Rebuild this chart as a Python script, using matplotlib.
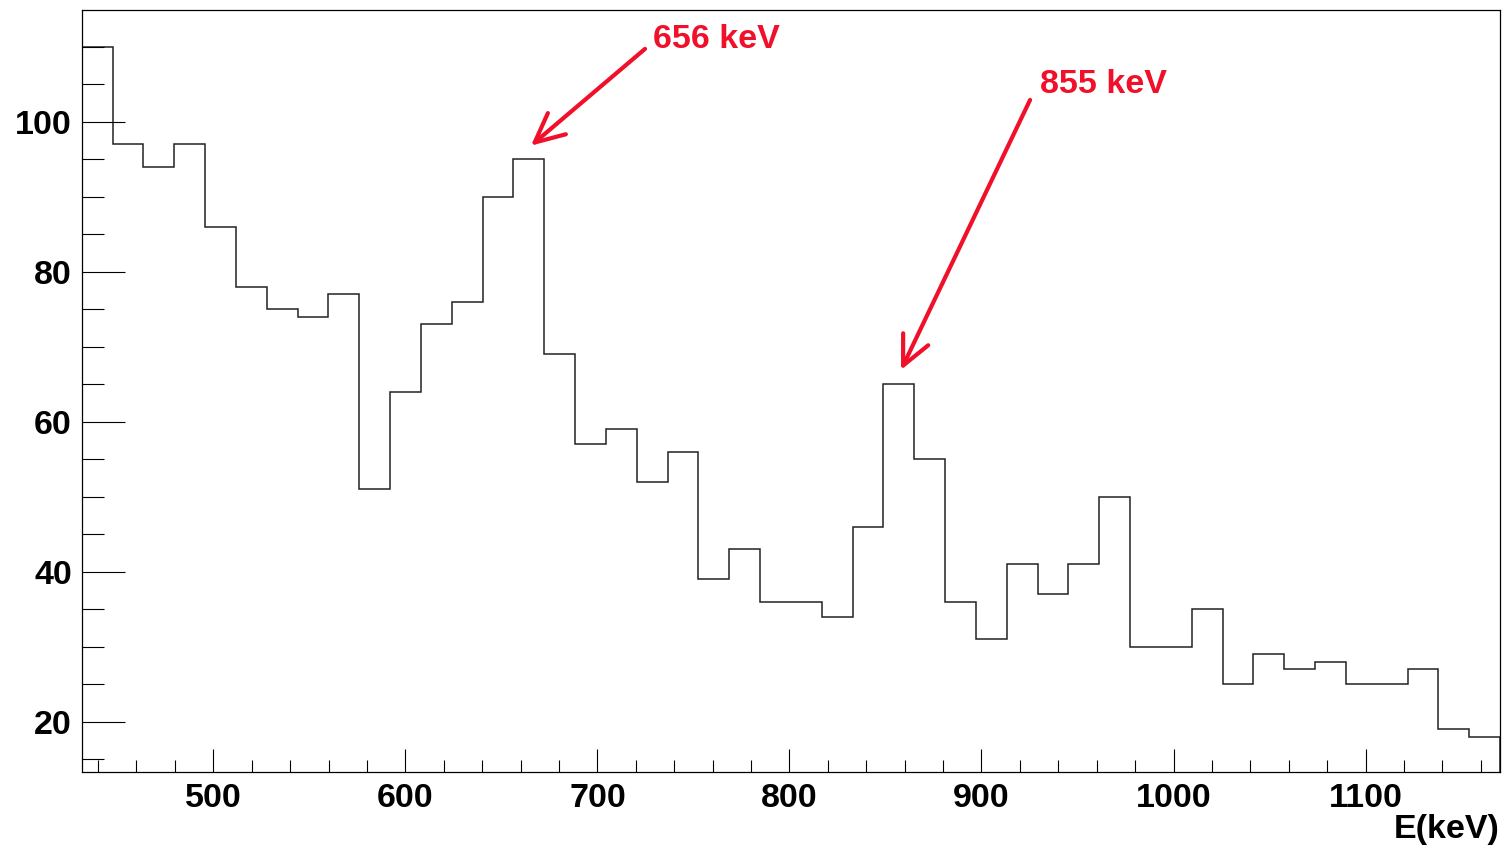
import numpy as np
import matplotlib
matplotlib.use("Agg")
import matplotlib.pyplot as plt
from matplotlib.ticker import MultipleLocator

plt.rcParams['font.family'] = ['Liberation Sans', 'DejaVu Sans']
plt.rcParams['font.weight'] = 'bold'

# histogram: 46 bins between e_min and e_max (keV)
e_min = 431.5
e_max = 1170.0
counts = [110, 97, 94, 97, 86, 78, 75, 74, 77, 51,
          64, 73, 76, 90, 95, 69, 57, 59, 52, 56,
          39, 43, 36, 36, 34, 46, 65, 55, 36, 31,
          41, 37, 41, 50, 30, 30, 35, 25, 29, 27,
          28, 25, 25, 27, 19, 18]
edges = np.linspace(e_min, e_max, len(counts) + 1)

# peak labels: text, arrow tip, arrow tail, text position
peak_labels = ["656 keV", "855 keV"]
peak_tips = [(665.4, 96.8), (858.1, 66.9)]
peak_tails = [(724.8, 109.7), (925.3, 102.9)]
peak_text = [(729.0, 111.0), (930.5, 105.0)]

red = "#f0102a"

fig = plt.figure(figsize=(15.05, 8.49), dpi=100)
ax = fig.add_axes([0.0543, 0.0907, 0.9424, 0.8972])

ax.stairs(counts, edges, baseline=0, color="#222222", lw=1.1)

ax.set_xlim(e_min, e_max)
ax.set_ylim(13.3, 114.85)

ax.xaxis.set_major_locator(MultipleLocator(100))
ax.xaxis.set_minor_locator(MultipleLocator(20))
ax.yaxis.set_major_locator(MultipleLocator(20))
ax.yaxis.set_minor_locator(MultipleLocator(5))

ax.tick_params(axis='x', which='major', direction='in', length=16.6, width=0.8,
               pad=8, labelsize=24.5, top=False)
ax.tick_params(axis='x', which='minor', direction='in', length=8.4, width=0.8, top=False)
ax.tick_params(axis='y', which='major', direction='in', length=30.7, width=0.8,
               pad=7, labelsize=24.5, right=False)
ax.tick_params(axis='y', which='minor', direction='in', length=15.6, width=0.8, right=False)
for lab in ax.get_xticklabels() + ax.get_yticklabels():
    lab.set_fontweight('bold')
for s in ax.spines.values():
    s.set_linewidth(0.9)

ax.set_xlabel("E(keV)", loc='right', fontsize=24.5, fontweight='bold', labelpad=0)

for lab, tip, tail, tpos in zip(peak_labels, peak_tips, peak_tails, peak_text):
    ax.annotate("", xy=tip, xytext=tail,
                arrowprops=dict(arrowstyle="->,head_length=1.05,head_width=0.5",
                                color=red, lw=3, mutation_scale=20,
                                shrinkA=0, shrinkB=0))
    ax.text(tpos[0], tpos[1], lab, color=red, fontsize=24.5, fontweight='bold',
            ha='left', va='center')

fig.savefig("out.png", dpi=100)
